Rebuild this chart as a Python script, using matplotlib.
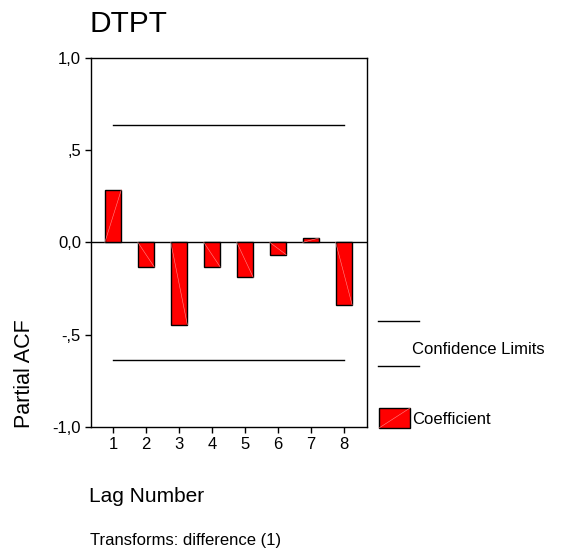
import matplotlib
matplotlib.use("Agg")
import matplotlib.pyplot as plt
from matplotlib.lines import Line2D
from matplotlib.patches import Rectangle

plt.rcParams['font.family'] = ['Liberation Sans', 'DejaVu Sans']

# --- data ---
lags = [1, 2, 3, 4, 5, 6, 7, 8]
pacf = [0.286, -0.134, -0.446, -0.134, -0.190, -0.067, 0.024, -0.339]
conf_limit = 0.635
ytick_vals = [-1.0, -0.5, 0.0, 0.5, 1.0]
ytick_labels = ["-1,0", "-,5", "0,0", ",5", "1,0"]

W, H = 563, 555
fig = plt.figure(figsize=(W / 100, H / 100), dpi=100)
ax = fig.add_axes([90.7 / W, 1 - 427 / H, (367 - 90.7) / W, (427 - 57.7) / H])

bar_w = 0.5
ax.bar(lags, pacf, width=bar_w, color="#ff0000", edgecolor="black", linewidth=1.0, zorder=3)
# faint diagonal streak inside each bar
for x, v in zip(lags, pacf):
    ax.plot([x - bar_w / 2, x + bar_w / 2], [0, v], color="#ff8a8a", lw=0.4, zorder=4)

ax.axhline(0, color="black", lw=1.0, zorder=2)
ax.plot([lags[0], lags[-1]], [conf_limit, conf_limit], color="black", lw=1.0)
ax.plot([lags[0], lags[-1]], [-conf_limit, -conf_limit], color="black", lw=1.0)

ax.set_xlim(0.32, 8.7)
ax.set_ylim(-1.0, 1.0)
ax.set_xticks(lags)
ax.set_xticklabels([str(l) for l in lags])
ax.set_yticks(ytick_vals)
ax.set_yticklabels(ytick_labels)
ax.tick_params(direction="out", length=4, width=1, labelsize=12, pad=3, colors="black")
for s in ax.spines.values():
    s.set_linewidth(1.0)

# titles / labels
fig.text(90 / W, 1 - 32 / H, "DTPT", fontsize=21.5, ha="left", va="baseline")
fig.text(25 / W, 1 - 374 / H, "Partial ACF", fontsize=15.5, rotation=90, ha="center", va="center")
fig.text(89 / W, 1 - 497 / H, "Lag Number", fontsize=15, ha="left", va="center")
fig.text(90 / W, 1 - 540 / H, "Transforms: difference (1)", fontsize=12, ha="left", va="center")

# legend, hand-built like the SPSS layout
fig.add_artist(Line2D([378 / W, 419 / W], [1 - 321 / H, 1 - 321 / H], color="black", lw=1.0))
fig.add_artist(Line2D([378 / W, 419 / W], [1 - 366 / H, 1 - 366 / H], color="black", lw=1.0))
fig.text(412 / W, 1 - 350 / H, "Confidence Limits", fontsize=12, ha="left", va="center")
fig.add_artist(Rectangle((379 / W, 1 - 428 / H), 31 / W, 20 / H, transform=fig.transFigure,
                         facecolor="#ff0000", edgecolor="black", lw=1.0))
fig.add_artist(Line2D([379 / W, 410 / W], [1 - 428 / H, 1 - 408 / H], color="#ff8a8a", lw=0.4))
fig.text(412 / W, 1 - 420 / H, "Coefficient", fontsize=12, ha="left", va="center")

fig.savefig("out.png", dpi=100)
